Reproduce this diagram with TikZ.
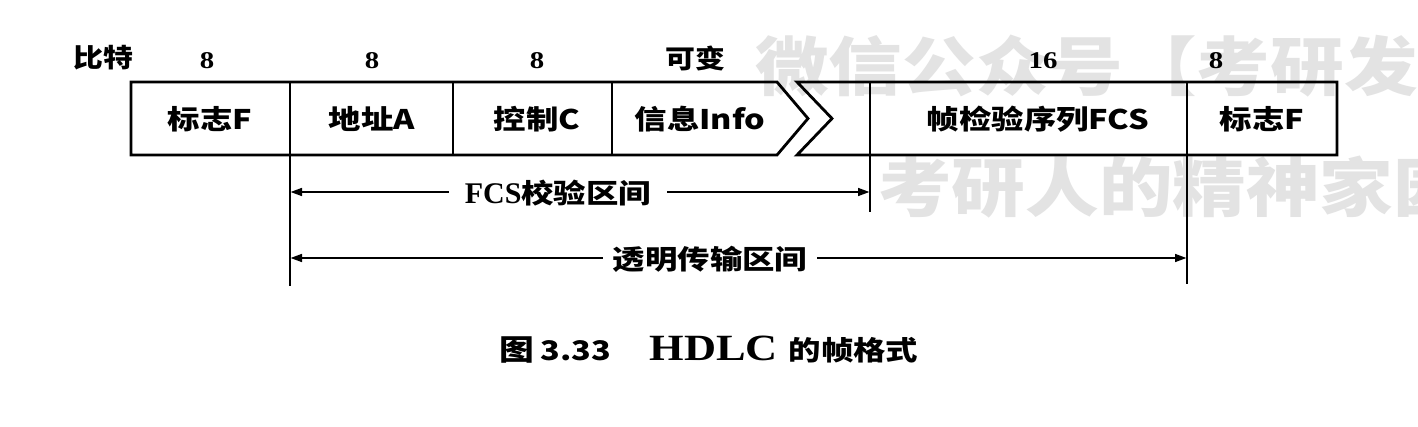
\documentclass[tikz,border=0pt]{standalone}
\usepackage{fontspec}
\setmainfont{Liberation Serif}
\newfontfamily\cjk{Noto Sans CJK SC}
\usetikzlibrary{arrows.meta}
\newcommand{\hsc}[2][1.2]{\scalebox{#1}[1]{#2}}
\begin{document}
\begin{tikzpicture}[x=1pt,y=-1pt,
  frame/.style={line width=2.8pt, line join=miter},
  divider/.style={line width=2.4pt},
  dimline/.style={line width=2.8pt},
  arr/.style={dimline, -{Triangle[length=12pt,width=7.5pt]}},
  lbl/.style={inner sep=0pt, font=\cjk\bfseries\fontsize{27}{27}\selectfont},
  bits/.style={inner sep=0pt, font=\bfseries\fontsize{24}{24}\selectfont},
  bitscjk/.style={inner sep=0pt, font=\cjk\bfseries\fontsize{26}{26}\selectfont},
  span/.style={inner xsep=16pt, inner ysep=0pt, font=\cjk\bfseries\fontsize{27}{27}\selectfont},
  wm/.style={inner sep=0pt, text=black!11, font=\cjk\bfseries\fontsize{64}{64}\selectfont}
]
\useasboundingbox (0,0) rectangle (1418,426);
\fill[white] (0,0) rectangle (1418,426);

% watermark
\node[wm, anchor=west] (wma) at (755,66) {\hsc[1.15]{微信公众号【考研发}};
\node[wm, anchor=west] (wmb) at (878,187) {\hsc[1.15]{考研人的精神家园}};

% frame outline
\draw[frame] (777,82) -- (131,82) -- (131,155) -- (777,155) -- (808,118.5) -- cycle;
\draw[frame] (797,82) -- (1337,82) -- (1337,155) -- (797,155) -- (832,118.5) -- cycle;

% divider tops and bottoms
\coordinate (d1t) at (290,82);  \coordinate (d1b) at (290,286);
\coordinate (d2t) at (453,82);  \coordinate (d2b) at (453,155);
\coordinate (d3t) at (612,82);  \coordinate (d3b) at (612,155);
\coordinate (d4t) at (870,82);  \coordinate (d4b) at (870,212);
\coordinate (d5t) at (1187,82); \coordinate (d5b) at (1187,284);
\draw[divider] (d1t) -- (d1b);
\draw[divider] (d2t) -- (d2b);
\draw[divider] (d3t) -- (d3b);
\draw[divider] (d4t) -- (d4b);
\draw[divider] (d5t) -- (d5b);

% bit counts
\node[bitscjk] (bitlbl) at (103,58) {\hsc[1.15]{比特}};
\node[bits] (b1) at (207,61) {\hsc{8}};
\node[bits] (b2) at (372,61) {\hsc{8}};
\node[bits] (b3) at (537,61) {\hsc{8}};
\node[bitscjk] (b4) at (695,58) {\hsc[1.15]{可变}};
\node[bits] (b5) at (1043,61) {\hsc{16}};
\node[bits] (b6) at (1216,61) {\hsc{8}};

% field labels
\node[lbl] (f1) at (210,119) {\hsc{标志F}};
\node[lbl] (f2) at (372,119) {\hsc{地址A}};
\node[lbl] (f3) at (537,119) {\hsc{控制C}};
\node[lbl] (f4) at (700,119) {\hsc{信息Info}};
\node[lbl] (f5) at (1038,119) {\hsc{帧检验序列FCS}};
\node[lbl] (f6) at (1262,119) {\hsc{标志F}};

% spans
\coordinate (s1l) at (290,192); \coordinate (s1r) at (870,192);
\coordinate (s2l) at (290,258); \coordinate (s2r) at (1187,258);
\node[span] (fcsspan) at (558,193) {{\rmfamily\bfseries\fontsize{30}{30}\selectfont FCS}\hsc{校验区间}};
\node[span, inner xsep=10pt] (trspan) at (710,259) {\hsc{透明传输区间}};
\draw[arr] (fcsspan.west |- s1l) -- (s1l);
\draw[arr] (fcsspan.east |- s1r) -- (s1r);
\draw[arr] (trspan.west |- s2l) -- (s2l);
\draw[arr] (trspan.east |- s2r) -- (s2r);

% caption
\node[inner sep=0pt] (cap) at (709,350) {\hsc{{\cjk\bfseries\fontsize{29}{29}\selectfont 图}\hspace{5pt}{\cjk\bfseries\fontsize{27}{27}\selectfont 3.33}\hspace{32pt}{\bfseries\fontsize{37}{37}\selectfont HDLC}\hspace{9pt}{\cjk\bfseries\fontsize{27}{27}\selectfont 的帧格式}}};
\end{tikzpicture}
\end{document}
